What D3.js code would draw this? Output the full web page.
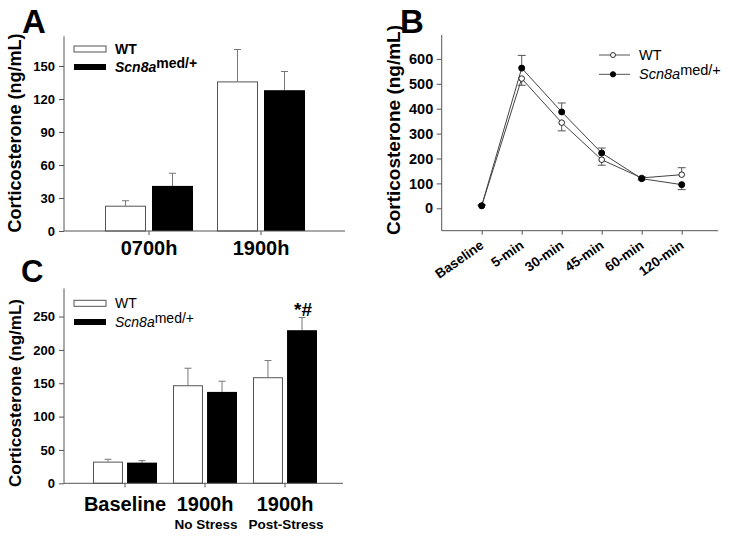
<!DOCTYPE html>
<html><head><meta charset="utf-8">
<script src="https://cdn.jsdelivr.net/npm/d3@7"></script>
<style>body{margin:0;background:#fff}svg{display:block}</style>
</head><body>
<svg id="chart" width="729" height="538"></svg>
<script>
// ---------- DATA ----------
const series = ["WT", "Scn8a"];
const legendItalic = "Scn8a";
const legendSup = "med/+";

// Panel A
const groupsA = ["0700h", "1900h"];
const wtA = [23, 136];
const wtAErr = [4.5, 29];
const mutA = [41, 128];
const mutAErr = [11.5, 17];
const ticksA = [0, 30, 60, 90, 120, 150];

// Panel B
const timesB = ["Baseline", "5-min", "30-min", "45-min", "60-min", "120-min"];
const wtB = [10, 521, 344, 195, 122, 135];
const wtBErr = [3, 27, 33, 22, 8, 28];
const wtBErrDir = [1, -1, -1, -1, -1, 1];
const mutB = [10, 563, 387, 222, 119, 95];
const mutBErr = [3, 51, 36, 20, 8, 20];
const mutBErrDir = [1, 1, 1, 1, 1, -1];
const ticksB = [0, 100, 200, 300, 400, 500, 600];

// Panel C
const groupsC = ["Baseline", "1900h No Stress", "1900h Post-Stress"];
const labelsC = ["Baseline", "1900h", "1900h"];
const subLabelsC = ["", "No Stress", "Post-Stress"];
const wtC = [32.5, 147, 159];
const wtCErr = [3.5, 25.5, 25];
const mutC = [31, 137, 229.5];
const mutCErr = [3, 16, 19];
const annotC = ["", "", "*#"];
const ticksC = [0, 50, 100, 150, 200, 250];

const yTitle = "Corticosterone (ng/mL)";

// ---------- DRAW ----------
const FONT = '"Liberation Sans", Arial, Helvetica, sans-serif';
const AX = "#555";
const ERR = "#777";
const svg = d3.select("#chart").attr("font-family", FONT);

function yAxis(scale, ticks, x, fs, pad) {
  const g = svg.append("g").attr("transform", `translate(${x},0)`)
    .call(d3.axisLeft(scale).tickValues(ticks).tickSize(5).tickPadding(pad));
  g.attr("font-family", FONT).attr("font-size", fs).attr("font-weight", "bold");
  g.select(".domain").remove();
  g.selectAll(".tick line").attr("stroke", AX);
  g.selectAll(".tick text").attr("fill", "#000");
  const r = scale.range();
  svg.append("line").attr("x1", x).attr("x2", x).attr("y1", r[0]).attr("y2", r[1]).attr("stroke", AX);
}

function xAxisLine(x1, x2, y) {
  svg.append("line").attr("x1", x1).attr("x2", x2).attr("y1", y).attr("y2", y).attr("stroke", AX);
}

function title(x, y, fs) {
  svg.append("text").attr("transform", `translate(${x},${y}) rotate(-90)`)
    .attr("text-anchor", "middle").attr("dy", "0.35em")
    .attr("font-size", fs).attr("font-weight", "bold").text(yTitle);
}

function letter(t, x, y, fs) {
  svg.append("text").attr("x", x).attr("y", y).attr("font-size", fs)
    .attr("font-weight", "bold").text(t);
}

function barLegend(x, ys, fs, bold) {
  const w = bold ? "bold" : "normal";
  svg.append("rect").attr("x", x).attr("y", ys[0] - 3).attr("width", 32).attr("height", 6)
    .attr("fill", "#fff").attr("stroke", AX);
  svg.append("text").attr("x", x + 41).attr("y", ys[0] + 4.5).attr("font-size", fs)
    .attr("font-weight", w).text(series[0]);
  svg.append("rect").attr("x", x).attr("y", ys[1] - 3).attr("width", 32).attr("height", 6)
    .attr("fill", "#000");
  const t = svg.append("text").attr("x", x + 41).attr("y", ys[1] + 5).attr("font-size", fs)
    .attr("font-weight", w);
  t.append("tspan").attr("font-style", "italic").text(legendItalic);
  t.append("tspan").attr("dy", -4).text(legendSup);
}

function bars(groups, wt, wtErr, mut, mutErr, x0, x1, y) {
  const data = [];
  groups.forEach((g, i) => {
    data.push({ g, s: "WT", v: wt[i], e: wtErr[i] });
    data.push({ g, s: "Scn8a", v: mut[i], e: mutErr[i] });
  });
  const bw = x1.bandwidth();
  data.forEach(d => {
    const cx = x0(d.g) + x1(d.s) + bw / 2;
    svg.append("line").attr("x1", cx).attr("x2", cx).attr("y1", y(d.v)).attr("y2", y(d.v + d.e))
      .attr("stroke", ERR);
    svg.append("line").attr("x1", cx - 3.5).attr("x2", cx + 3.5).attr("y1", y(d.v + d.e)).attr("y2", y(d.v + d.e))
      .attr("stroke", ERR);
  });
  svg.append("g").selectAll("rect").data(data).join("rect")
    .attr("x", d => x0(d.g) + x1(d.s) + (d.s === "WT" ? 0.5 : 0))
    .attr("y", d => y(d.v) + (d.s === "WT" ? 0.5 : 0))
    .attr("width", d => bw - (d.s === "WT" ? 1 : 0))
    .attr("height", d => y(0) - y(d.v) - (d.s === "WT" ? 0.5 : 0))
    .attr("fill", d => d.s === "WT" ? "#fff" : "#000")
    .attr("stroke", d => d.s === "WT" ? AX : "none");
}

// ===== Panel A =====
const yA = d3.scaleLinear().domain([0, 177]).range([231, 36.3]);
const x0A = d3.scaleBand().domain(groupsA).range([93, 317]);
const x1A = d3.scaleBand().domain(series).range([12, 100]).paddingInner(0.128);
bars(groupsA, wtA, wtAErr, mutA, mutAErr, x0A, x1A, yA);
yAxis(yA, ticksA, 64, 13, 4);
xAxisLine(64, 345, 231);
{
  const g = svg.append("g").attr("transform", "translate(0,231)")
    .call(d3.axisBottom(x0A).tickSize(4).tickPadding(6));
  g.attr("font-family", FONT).attr("font-size", 20).attr("font-weight", "bold");
  g.select(".domain").remove();
  g.selectAll(".tick line").attr("stroke", AX);
  g.selectAll(".tick text").attr("fill", "#000");
}
barLegend(74, [49, 67], 14, true);
title(15, 133, 18);
letter("A", 22, 33, 33);

// ===== Panel B =====
const yB = d3.scaleLinear().domain([-90, 696]).range([230.7, 35]);
const xB = d3.scalePoint().domain(timesB).range([481.7, 681.7]);
yAxis(yB, ticksB, 441.7, 14.5, 3.5);
xAxisLine(441.7, 718, 230.7);
{
  const g = svg.append("g").attr("transform", "translate(0,230.7)")
    .call(d3.axisBottom(xB).tickSize(4).tickFormat(""));
  g.select(".domain").remove();
  g.selectAll(".tick line").attr("stroke", AX);
  svg.append("g").selectAll("text").data(timesB).join("text")
    .attr("transform", d => `translate(${xB(d) + 3},${230.7 + 16.5}) rotate(-35)`)
    .attr("text-anchor", "end").attr("font-size", 13.5).attr("font-weight", "bold").text(d => d);
}
function lineSeries(vals, errs, dirs) {
  const pts = timesB.map((t, i) => ({ t, v: vals[i], e: errs[i], dir: dirs[i] }));
  pts.forEach(p => {
    const cx = xB(p.t), yEnd = yB(p.v + p.dir * p.e);
    svg.append("line").attr("x1", cx).attr("x2", cx).attr("y1", yB(p.v)).attr("y2", yEnd).attr("stroke", AX);
    svg.append("line").attr("x1", cx - 4).attr("x2", cx + 4).attr("y1", yEnd).attr("y2", yEnd).attr("stroke", AX);
  });
  svg.append("path").datum(pts)
    .attr("d", d3.line().x(p => xB(p.t)).y(p => yB(p.v)))
    .attr("fill", "none").attr("stroke", "#444").attr("stroke-width", 1);
  return pts;
}
const wtPts = lineSeries(wtB, wtBErr, wtBErrDir);
const mutPts = lineSeries(mutB, mutBErr, mutBErrDir);
svg.append("g").selectAll("circle").data(wtPts).join("circle")
  .attr("cx", p => xB(p.t)).attr("cy", p => yB(p.v)).attr("r", 2.8)
  .attr("fill", "#fff").attr("stroke", "#222");
svg.append("g").selectAll("circle").data(mutPts).join("circle")
  .attr("cx", p => xB(p.t)).attr("cy", p => yB(p.v)).attr("r", 3)
  .attr("fill", "#000").attr("stroke", "#000");
[[55, false], [74.3, true]].forEach(([yy, filled], i) => {
  svg.append("line").attr("x1", 599).attr("x2", 630).attr("y1", yy).attr("y2", yy).attr("stroke", "#555");
  svg.append("circle").attr("cx", 613).attr("cy", yy).attr("r", filled ? 2.6 : 2.5)
    .attr("fill", filled ? "#000" : "#fff").attr("stroke", filled ? "#000" : "#333");
  const t = svg.append("text").attr("x", 639).attr("y", yy + 5).attr("font-size", 14.5);
  if (i === 0) t.text(series[0]);
  else {
    t.append("tspan").attr("font-style", "italic").text(legendItalic);
    t.append("tspan").attr("dy", -4).text(legendSup);
  }
});
title(393, 130, 19);
letter("B", 400, 33, 33);

// ===== Panel C =====
const yC = d3.scaleLinear().domain([0, 292]).range([483.3, 288.5]);
const x0C = d3.scaleBand().domain(groupsC).range([85, 325]);
const x1C = d3.scaleBand().domain(series).range([8, 72]).paddingInner(0.12);
bars(groupsC, wtC, wtCErr, mutC, mutCErr, x0C, x1C, yC);
yAxis(yC, ticksC, 64, 13, 4);
xAxisLine(64, 343, 483.3);
{
  const g = svg.append("g").attr("transform", "translate(0,483.3)")
    .call(d3.axisBottom(x0C).tickSize(4).tickPadding(10).tickFormat((d, i) => labelsC[i]));
  g.attr("font-family", FONT).attr("font-size", 20).attr("font-weight", "bold");
  g.select(".domain").remove();
  g.selectAll(".tick line").attr("stroke", AX);
  g.selectAll(".tick text").attr("fill", "#000");
  svg.append("g").selectAll("text").data(groupsC).join("text")
    .attr("x", d => x0C(d) + x0C.bandwidth() / 2 + 1).attr("y", 529.3)
    .attr("text-anchor", "middle").attr("font-size", 13.5).attr("font-weight", "bold")
    .text((d, i) => subLabelsC[i]);
  svg.append("g").selectAll("text").data(groupsC).join("text")
    .attr("x", d => x0C(d) + x1C("Scn8a") + x1C.bandwidth() / 2 + 1)
    .attr("y", (d, i) => yC(mutC[i] + mutCErr[i]) - 2)
    .attr("text-anchor", "middle").attr("font-size", 19).attr("font-weight", "bold")
    .text((d, i) => annotC[i]);
}
barLegend(74, [303.3, 322], 14, false);
title(15.5, 393, 17);
letter("C", 21, 282, 31);
</script>
</body></html>
